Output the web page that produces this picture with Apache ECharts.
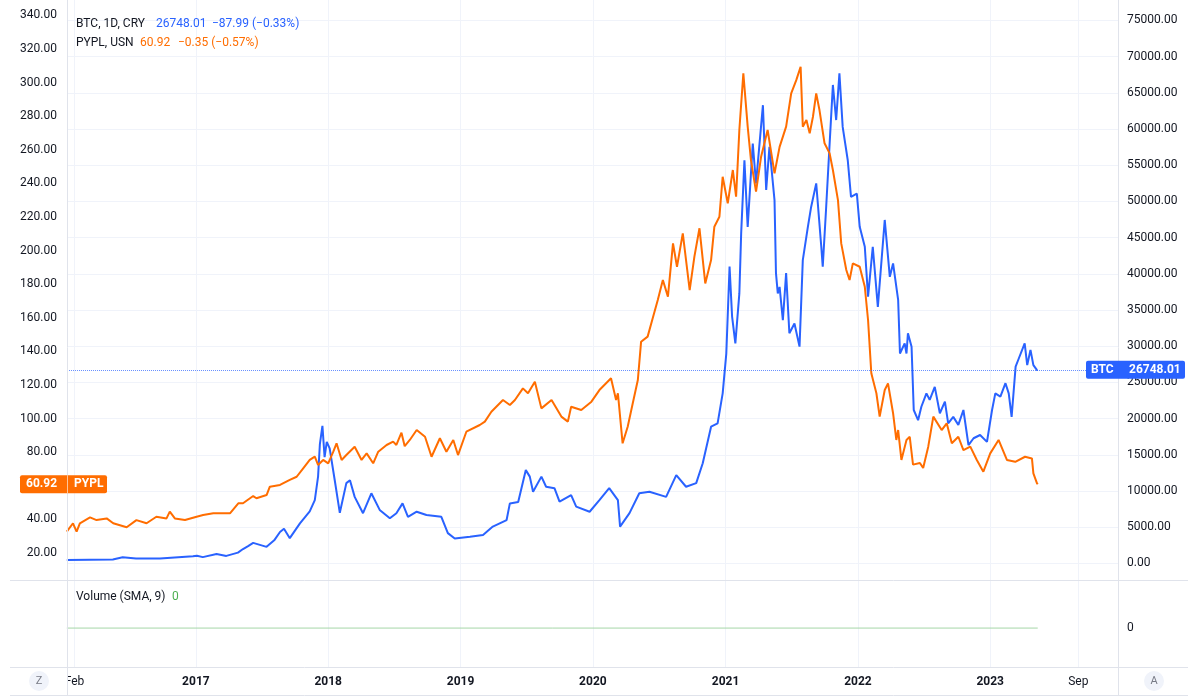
<!DOCTYPE html>
<html>
<head>
<meta charset="utf-8">
<script src="https://cdn.jsdelivr.net/npm/echarts@6.0.0/dist/echarts.min.js"></script>
<style>
html,body{margin:0;padding:0;background:#fff}
#main{width:1200px;height:699px}
</style>
</head>
<body>
<div id="main"></div>
<script>
// BTC (right scale) and PYPL (left scale), closes
var btcDates = ['2016-01-11','2016-05-17','2016-06-13','2016-07-20','2016-09-24','2016-12-24','2017-01-04','2017-01-20','2017-02-27','2017-03-26',
 '2017-04-27','2017-05-11','2017-05-25','2017-06-08','2017-07-15','2017-08-05','2017-08-21','2017-09-01','2017-09-17','2017-10-15',
 '2017-11-11','2017-11-25','2017-12-04','2017-12-09','2017-12-16','2017-12-22','2017-12-28','2018-01-05','2018-01-19','2018-02-02',
 '2018-02-20','2018-03-02','2018-03-15','2018-04-07','2018-04-30','2018-05-23','2018-06-20','2018-07-08','2018-07-25','2018-08-09',
 '2018-09-02','2018-09-29','2018-11-09','2018-11-27','2018-12-16','2019-01-27','2019-03-04','2019-03-31','2019-05-08','2019-05-17',
 '2019-06-09','2019-06-30','2019-07-11','2019-07-20','2019-08-12','2019-08-25','2019-09-17','2019-10-01','2019-11-02','2019-11-16',
 '2019-12-23','2020-01-19','2020-02-15','2020-03-10','2020-03-16','2020-04-11','2020-05-08','2020-06-05','2020-07-21','2020-08-18',
 '2020-09-14','2020-10-12','2020-10-30','2020-11-22','2020-12-10','2020-12-24','2021-01-03','2021-01-12','2021-01-19','2021-01-28',
 '2021-02-08','2021-02-13','2021-02-22','2021-03-03','2021-03-17','2021-03-26','2021-04-14','2021-04-23','2021-05-02','2021-05-16',
 '2021-05-20','2021-05-25','2021-05-30','2021-06-08','2021-06-17','2021-06-26','2021-07-10','2021-07-24','2021-08-02','2021-08-16',
 '2021-08-25','2021-09-08','2021-09-22','2021-09-26','2021-10-05','2021-10-15','2021-10-24','2021-11-02','2021-11-11','2021-11-20',
 '2021-12-04','2021-12-13','2021-12-29','2022-01-06','2022-01-20','2022-01-29','2022-02-11','2022-02-25','2022-03-16','2022-03-30',
 '2022-04-08','2022-04-22','2022-04-27','2022-05-10','2022-05-15','2022-05-19','2022-05-29','2022-06-04','2022-06-16','2022-06-25',
 '2022-07-09','2022-07-18','2022-08-01','2022-08-15','2022-08-29','2022-09-07','2022-09-21','2022-10-05','2022-10-19','2022-11-02',
 '2022-11-16','2022-12-04','2022-12-23','2023-01-06','2023-01-15','2023-01-29','2023-02-12','2023-02-21','2023-03-01','2023-03-12',
 '2023-03-21','2023-04-06','2023-04-13','2023-04-22','2023-04-30','2023-05-10','2023-05-12'];
var btcClose = [480,560,850,680,700,1000,1080,880,1300,1050,
 1500,2000,2400,2850,2300,3200,4350,4800,3500,5550,
 7200,8750,12000,16500,19000,14700,16800,15900,11500,7000,
 11100,11500,9200,6950,9700,7400,6250,6950,8300,6450,
 7150,6700,6450,4200,3450,3700,3950,5100,6000,8300,
 8500,12900,12000,9900,12000,10600,10400,8550,9450,7850,
 7150,8750,10400,8750,5100,6950,9700,9900,9200,12200,
 10600,11100,13850,18900,19350,23500,29000,41000,34100,30400,
 37300,45600,55700,46500,58000,52500,63300,51600,57550,50200,
 40100,37300,38200,33600,40100,31800,33150,29950,41900,46500,
 49250,52500,43750,41000,48800,58000,66100,61250,67700,60300,
 55700,50650,51100,46500,43750,36850,43750,35450,47450,39600,
 41450,36400,29000,30400,29000,31800,29950,21200,19800,21650,
 23500,22600,24400,20750,22350,19350,20250,19150,21200,16350,
 17300,17750,16800,21200,23500,23050,24900,23500,20250,27200,
 28350,30400,27400,29500,27400,26700,26748.01];

var pyplDates = ['2016-01-11','2016-01-14','2016-01-28','2016-02-07','2016-02-16','2016-03-15','2016-04-02','2016-04-30','2016-05-18','2016-06-24',
 '2016-07-21','2016-08-18','2016-09-14','2016-10-12','2016-10-21','2016-11-04','2016-12-02','2017-01-03','2017-01-21','2017-02-18',
 '2017-03-27','2017-04-05','2017-04-28','2017-05-11','2017-06-08','2017-06-17','2017-07-15','2017-07-24','2017-08-21','2017-09-17',
 '2017-10-06','2017-10-24','2017-11-11','2017-11-25','2017-12-04','2017-12-18','2018-01-01','2018-01-15','2018-01-24','2018-02-07',
 '2018-02-20','2018-03-15','2018-04-03','2018-04-17','2018-05-05','2018-05-19','2018-06-11','2018-06-29','2018-07-08','2018-07-22',
 '2018-07-31','2018-08-14','2018-09-02','2018-09-25','2018-10-13','2018-11-05','2018-11-23','2018-12-12','2018-12-25','2019-01-17',
 '2019-02-23','2019-03-09','2019-03-27','2019-04-28','2019-05-17','2019-05-31','2019-06-22','2019-07-06','2019-07-25','2019-08-12',
 '2019-09-09','2019-10-06','2019-10-24','2019-11-02','2019-11-30','2019-12-28','2020-01-19','2020-02-20','2020-03-05','2020-03-10',
 '2020-03-23','2020-04-06','2020-04-20','2020-05-04','2020-05-13','2020-05-31','2020-06-14','2020-06-28','2020-07-12','2020-07-26',
 '2020-08-09','2020-08-20','2020-09-05','2020-09-24','2020-10-07','2020-10-21','2020-11-06','2020-11-22','2020-12-01','2020-12-15',
 '2020-12-24','2021-01-07','2021-01-21','2021-01-30','2021-02-08','2021-02-19','2021-03-03','2021-03-12','2021-03-26','2021-04-09',
 '2021-04-27','2021-05-02','2021-05-16','2021-05-30','2021-06-17','2021-07-01','2021-07-15','2021-07-27','2021-08-02','2021-08-12',
 '2021-08-21','2021-08-30','2021-09-08','2021-09-17','2021-10-01','2021-10-15','2021-10-24','2021-11-07','2021-11-16','2021-11-30',
 '2021-12-09','2021-12-18','2022-01-06','2022-01-20','2022-01-29','2022-02-07','2022-02-21','2022-03-02','2022-03-16','2022-03-25',
 '2022-04-08','2022-04-17','2022-04-22','2022-05-01','2022-05-15','2022-05-24','2022-06-02','2022-06-21','2022-06-30','2022-07-14',
 '2022-07-28','2022-08-20','2022-09-03','2022-09-17','2022-10-05','2022-10-19','2022-11-07','2022-11-25','2022-12-13','2023-01-01',
 '2023-01-24','2023-02-16','2023-03-11','2023-04-07','2023-04-26','2023-04-30','2023-05-10','2023-05-12'];
var pyplClose = [32.7,31.9,37.7,32.7,37.7,41.2,39.6,40.6,37.7,35.3,
 39.6,37.7,41.6,40.6,44.6,40.6,39.6,41.6,42.6,43.6,
 43.6,43.6,49.6,49.6,53.9,52.6,54.5,59.5,60.5,63.5,
 65.4,70.4,75.4,77.4,72.4,75.4,73.4,80.3,85.3,75.4,
 78.3,83.3,75.4,79.3,73.4,80.3,84.3,86.3,84.3,91.6,
 83.6,87.3,93.2,89.2,77.3,88.3,80.3,87.3,78.3,92.2,
 96.2,98.2,104.1,111.1,108.1,111.1,118.0,115.1,122.0,106.1,
 111.1,101.2,98.2,107.1,105.1,110.1,117.0,124.0,111.1,115.1,
 85.3,95.2,109.1,123.0,145.8,148.8,159.7,170.6,182.5,172.6,
 204.3,190.4,210.3,176.5,196.4,213.3,180.5,194.4,214.2,220.2,
 244.0,228.2,248.0,232.1,271.8,305.5,273.8,253.9,235.1,255.9,
 271.8,271.8,246.0,261.8,273.8,293.6,301.5,309.5,273.8,277.7,
 269.8,279.7,293.6,283.7,263.9,257.9,248.0,230.1,204.3,188.5,
 182.5,192.4,190.4,178.5,158.7,127.0,115.1,101.2,117.0,121.0,
 103.2,87.3,93.2,75.4,87.3,89.2,72.6,73.6,70.6,83.3,
 101.2,93.2,97.2,85.3,89.2,81.3,83.3,75.4,68.4,79.3,
 87.3,75.4,74.3,77.3,76.3,67.4,61.5,60.92];

// volume SMA(9) pane: flat at zero over the whole range
var volDates = ['2016-01-11','2023-05-12'];
var volSma = [0, 0];

var timeTicks = ['2016-02-01','2017-01-01','2018-01-01','2019-01-01','2020-01-01','2021-01-01','2022-01-01','2023-01-01','2023-09-01'];
var pyplTicks = [20,40,60,80,100,120,140,160,180,200,220,240,260,280,300,320,340];
var btcTicks = [0,5000,10000,15000,20000,25000,30000,35000,40000,45000,50000,55000,60000,65000,70000,75000];

var btcLast = 26748.01, btcChg = '\u221287.99 (\u22120.33%)';
var pyplLast = 60.92, pyplChg = '\u22120.35 (\u22120.57%)';

var MONTHS = ['Jan','Feb','Mar','Apr','May','Jun','Jul','Aug','Sep','Oct','Nov','Dec'];
var FONT = 'Roboto, "Noto Sans", sans-serif';
var TXT = '#131722';

function ts(s){
    var p = s.split('-');
    return Date.UTC(+p[0], +p[1]-1, +p[2]);
}
function zip(dates, vals){
    return dates.map(function(d,i){ return [ts(d), vals[i]]; });
}

var DAY = 864e5, t2017 = ts('2017-01-01');
var xMin = t2017 - 355.5*DAY, xMax = t2017 + 2543.4*DAY;
var tickTs = timeTicks.map(ts);

function dateLabel(v){
    var d = new Date(v);
    if(d.getUTCMonth()===0) return '{y|'+d.getUTCFullYear()+'}';
    return MONTHS[d.getUTCMonth()];
}

var chart = echarts.init(document.getElementById('main'));
var option = {
    animation:false,
    backgroundColor:'#fff',
    textStyle:{fontFamily:FONT},
    grid:[
        {left:67, right:82, top:0, height:580},
        {left:67, right:82, top:580, height:87}
    ],
    xAxis:[
        {type:'value', gridIndex:0, min:xMin, max:xMax,
         axisLine:{show:false},
         axisTick:{show:false, customValues:tickTs},
         axisLabel:{show:false, customValues:tickTs},
         splitLine:{show:true, lineStyle:{color:'#f0f3fa', width:1}}},
        {type:'value', gridIndex:1, min:xMin, max:xMax,
         axisLine:{show:false},
         axisTick:{show:false, customValues:tickTs},
         axisLabel:{customValues:tickTs, margin:9, color:TXT, fontSize:12, fontFamily:FONT,
            formatter:dateLabel,
            rich:{y:{fontWeight:'bold', fontSize:12, color:TXT, fontFamily:FONT}}},
         splitLine:{show:true, lineStyle:{color:'#f0f3fa', width:1}}}
    ],
    yAxis:[
        {type:'value', gridIndex:0, position:'left', min:3.93, max:349.2,
         axisLine:{show:false}, splitLine:{show:false},
         axisTick:{show:false, customValues:pyplTicks},
         axisLabel:{customValues:pyplTicks, margin:10, color:TXT, fontSize:12,
            formatter:function(v){ return v.toFixed(2); }}},
        {type:'value', gridIndex:0, position:'right', min:-2279, max:77831,
         axisLine:{show:false},
         splitLine:{show:true, lineStyle:{color:'#f0f3fa', width:1}},
         axisTick:{show:false, customValues:btcTicks},
         axisLabel:{customValues:btcTicks, margin:9, color:TXT, fontSize:12,
            formatter:function(v){ return v.toFixed(2); }}},
        {type:'value', gridIndex:1, position:'right', min:-0.81, max:1,
         axisLine:{show:false}, splitLine:{show:false},
         axisTick:{show:false, customValues:[0]},
         axisLabel:{customValues:[0], margin:9, color:TXT, fontSize:12,
            formatter:function(v){ return String(v); }}}
    ],
    series:[
        {name:'BTC', type:'line', xAxisIndex:0, yAxisIndex:1,
         data:zip(btcDates, btcClose), showSymbol:false, symbol:'none',
         lineStyle:{color:'#2962ff', width:2}, itemStyle:{color:'#2962ff'},
         markLine:{silent:true, symbol:['none','none'], label:{show:false},
            lineStyle:{type:'dotted', color:'#2962ff', width:1, opacity:0.7},
            data:[{yAxis:btcLast}]}},
        {name:'PYPL', type:'line', xAxisIndex:0, yAxisIndex:0,
         data:zip(pyplDates, pyplClose), showSymbol:false, symbol:'none',
         lineStyle:{color:'#ff6d00', width:2}, itemStyle:{color:'#ff6d00'}},
        {name:'Volume', type:'line', xAxisIndex:1, yAxisIndex:2,
         data:zip(volDates, volSma), showSymbol:false, symbol:'none',
         lineStyle:{color:'#a5d6a7', width:1}}
    ]
};
chart.setOption(option);

// pane borders, legend texts, last price tags
function decorate(){
    var yB = chart.convertToPixel({yAxisIndex:1}, btcLast);
    var yP = chart.convertToPixel({yAxisIndex:0}, pyplLast);
    var border = '#e0e3eb';
    function line(x1,y1,x2,y2){
        return {type:'line', silent:true, z:50, shape:{x1:x1,y1:y1,x2:x2,y2:y2}, style:{stroke:border, lineWidth:1}};
    }
    function txt(x,y,s,color,size,weight){
        return {type:'text', silent:true, z:80, x:x, y:y,
            style:{text:s, fill:color, fontSize:size||12, fontFamily:FONT, fontWeight:weight||'normal', verticalAlign:'middle', align:'left'}};
    }
    var g = [
        // left price-scale panel hides the start of the first time label
        {type:'rect', z:45, silent:true, shape:{x:0, y:668, width:67, height:27}, style:{fill:'#fff'}},
        line(67.5,0,67.5,695), line(1118.5,0,1118.5,695),
        line(10,580.5,1188,580.5), line(10,667.5,1188,667.5), line(10,695.5,1188,695.5),
        txt(76,24,'BTC, 1D, CRY',TXT), txt(156,24,btcLast.toFixed(2),'#2962ff'), txt(212,24,btcChg,'#2962ff'),
        txt(76,43,'PYPL, USN',TXT), txt(140,43,pyplLast.toFixed(2),'#ff6d00'), txt(178,43,pyplChg,'#ff6d00'),
        txt(76,597,'Volume (SMA, 9)',TXT), txt(172,597,'0','#4caf50'),
        {type:'rect', z:70, shape:{x:1086, y:yB-9, width:99, height:18, r:2}, style:{fill:'#2962ff'}},
        txt(1091,yB,'BTC','#fff',12,'bold'), txt(1129,yB,btcLast.toFixed(2),'#fff',12,'bold'),
        {type:'rect', z:70, shape:{x:20, y:yP-9, width:87, height:18, r:2}, style:{fill:'#ff6d00'}},
        {type:'line', z:71, shape:{x1:67.5,y1:yP-9,x2:67.5,y2:yP+9}, style:{stroke:'rgba(255,255,255,0.6)', lineWidth:1}},
        txt(26,yP,pyplLast.toFixed(2),'#fff',12,'bold'), txt(74,yP,'PYPL','#fff',12,'bold'),
        {type:'circle', z:60, shape:{cx:39, cy:681, r:10}, style:{fill:'#f0f3fa'}},
        {type:'text', z:80, x:39, y:681, style:{text:'Z', fill:'#787b86', fontSize:11, fontFamily:FONT, align:'center', verticalAlign:'middle'}},
        {type:'circle', z:60, shape:{cx:1154, cy:681, r:10}, style:{fill:'#f0f3fa'}},
        {type:'text', z:80, x:1154, y:681, style:{text:'A', fill:'#787b86', fontSize:11, fontFamily:FONT, align:'center', verticalAlign:'middle'}}
    ];
    chart.setOption({graphic:g});
}
decorate();
</script>
</body>
</html>
